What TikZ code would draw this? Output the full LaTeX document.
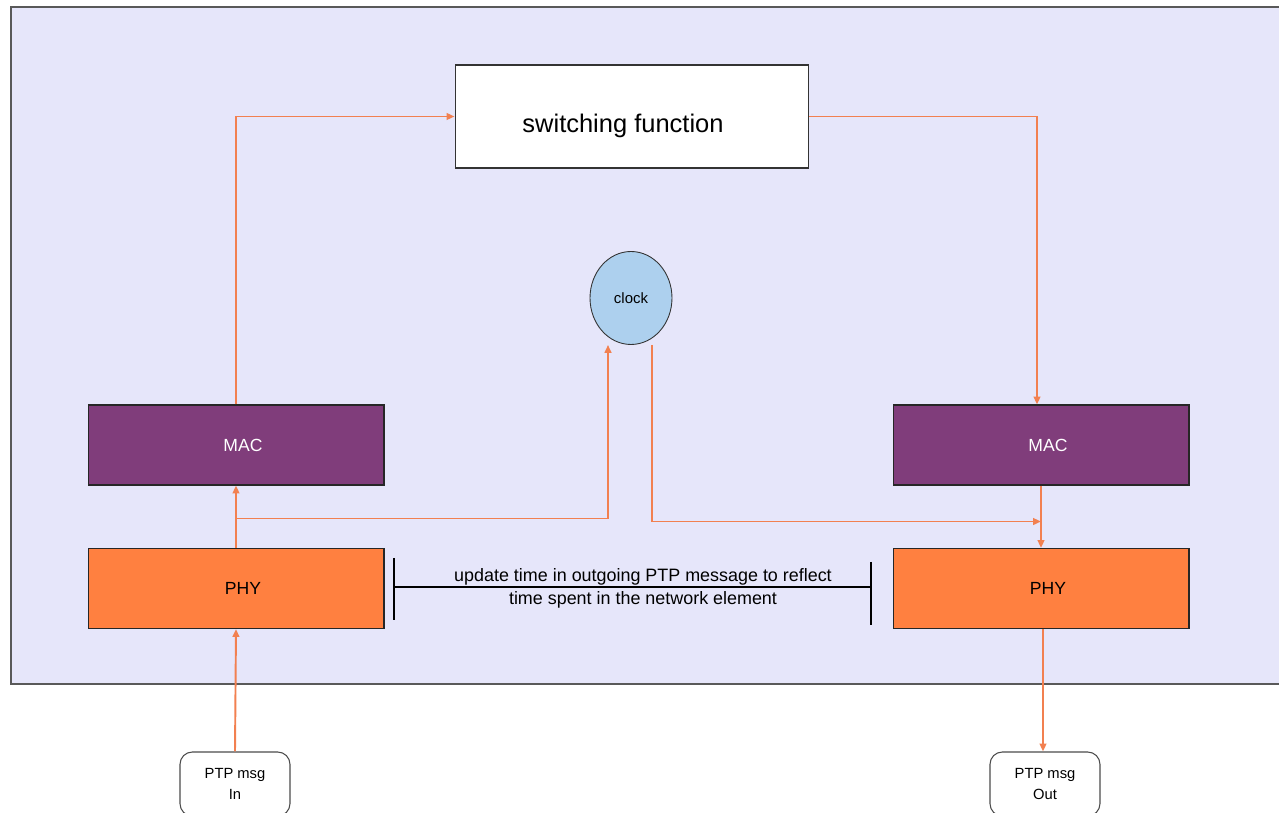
\documentclass[tikz,border=0pt]{standalone}
\usepackage{fontspec}
\setmainfont{Liberation Sans}
\usetikzlibrary{arrows.meta,calc,shapes.geometric}
\definecolor{bgcol}{RGB}{230,230,250}
\definecolor{maccol}{RGB}{128,61,123}
\definecolor{phycol}{RGB}{255,128,64}
\definecolor{linecol}{RGB}{242,128,80}
\definecolor{clockcol}{RGB}{173,208,238}

\begin{document}
\begin{tikzpicture}[x=0.02cm,y=-0.02cm,
    blockbox/.style={draw=black!85,line width=0.6pt,minimum width=5.92cm,minimum height=1.6cm,inner sep=0pt,font=\fontsize{10}{12}\selectfont},
    msgbox/.style={draw=black!70,line width=0.6pt,rounded corners=7pt,fill=white,minimum width=2.2cm,minimum height=1.28cm,align=center,font=\fontsize{8.4}{12}\selectfont},
    flow/.style={draw=linecol,line width=1.1pt,-{Triangle[length=4.5pt,width=3.8pt]}}]
      \useasboundingbox (0,0) rectangle (1279,813);
      % Network element (background)
      \draw[fill=bgcol,draw=black!65,line width=0.8pt] (11,7) rectangle (1320,684);
      % Blocks
      \node[draw=black!80,line width=0.6pt,fill=white,minimum width=7.08cm,minimum height=2.06cm,inner sep=0pt,text height=0.75cm,text depth=0.1cm,font=\fontsize{14.5}{16}\selectfont] (switch) at (632,116.5) {switching function\hspace*{0.36cm}};
      \node[ellipse,draw=black!80,line width=0.5pt,fill=clockcol,minimum width=1.64cm,minimum height=1.86cm,inner sep=0pt,font=\fontsize{8.5}{10}\selectfont] (clock) at (631,298) {clock};
      \node[blockbox,fill=maccol,text=white] (macL) at (236,445) {\hspace*{0.28cm}MAC};
      \node[blockbox,fill=maccol,text=white] (macR) at (1041,445) {\hspace*{0.28cm}MAC};
      \node[blockbox,fill=phycol] (phyL) at (236,588.5) {\hspace*{0.28cm}PHY};
      \node[blockbox,fill=phycol] (phyR) at (1041,588.5) {\hspace*{0.28cm}PHY};
      \node[msgbox] (msgIn) at (235,784) {PTP msg\\In};
      \node[msgbox] (msgOut) at (1045,784) {PTP msg\\Out};
      % Branch points and clock taps
      \coordinate (splitL) at ($(macL.south)+(0,33)$);
      \coordinate (splitR) at ($(macR.south)+(0,36)$);
      \coordinate (clockIn) at ($(clock.south)+(-23,0)$);
      \coordinate (clockOut) at ($(clock.south)+(21,0)$);
      % Message path
      \draw[flow] (macL.north) |- (switch.west);
      \draw[flow] (switch.east) -| ($(macR.north)+(-4,0)$);
      \draw[flow] (phyL.north) -- (macL.south);
      \draw[flow] (splitL) -| (clockIn);
      \draw[flow] (clockOut) |- (splitR);
      \draw[flow] (macR.south) -- (phyR.north);
      \draw[flow] (msgIn.north) -- (phyL.south);
      \draw[flow] ($(phyR.south)+(2,0)$) -- ($(msgOut.north)+(-2,0)$);
      % Residence time span
      \coordinate (spanL) at (394,587);
      \coordinate (spanR) at (871,587);
      \draw[line width=0.9pt] (spanL) -- (spanR);
      \draw[line width=0.9pt] ($(spanL)+(0,-29)$) -- ($(spanL)+(0,33)$);
      \draw[line width=0.9pt] ($(spanR)+(0,-25)$) -- ($(spanR)+(0,38)$);
      \node[align=center,font=\fontsize{10.2}{13}\selectfont,inner sep=0pt] (note) at (643,588.5) {update time in outgoing PTP message to reflect\\time spent in the network element};
    \end{tikzpicture}
\end{document}
